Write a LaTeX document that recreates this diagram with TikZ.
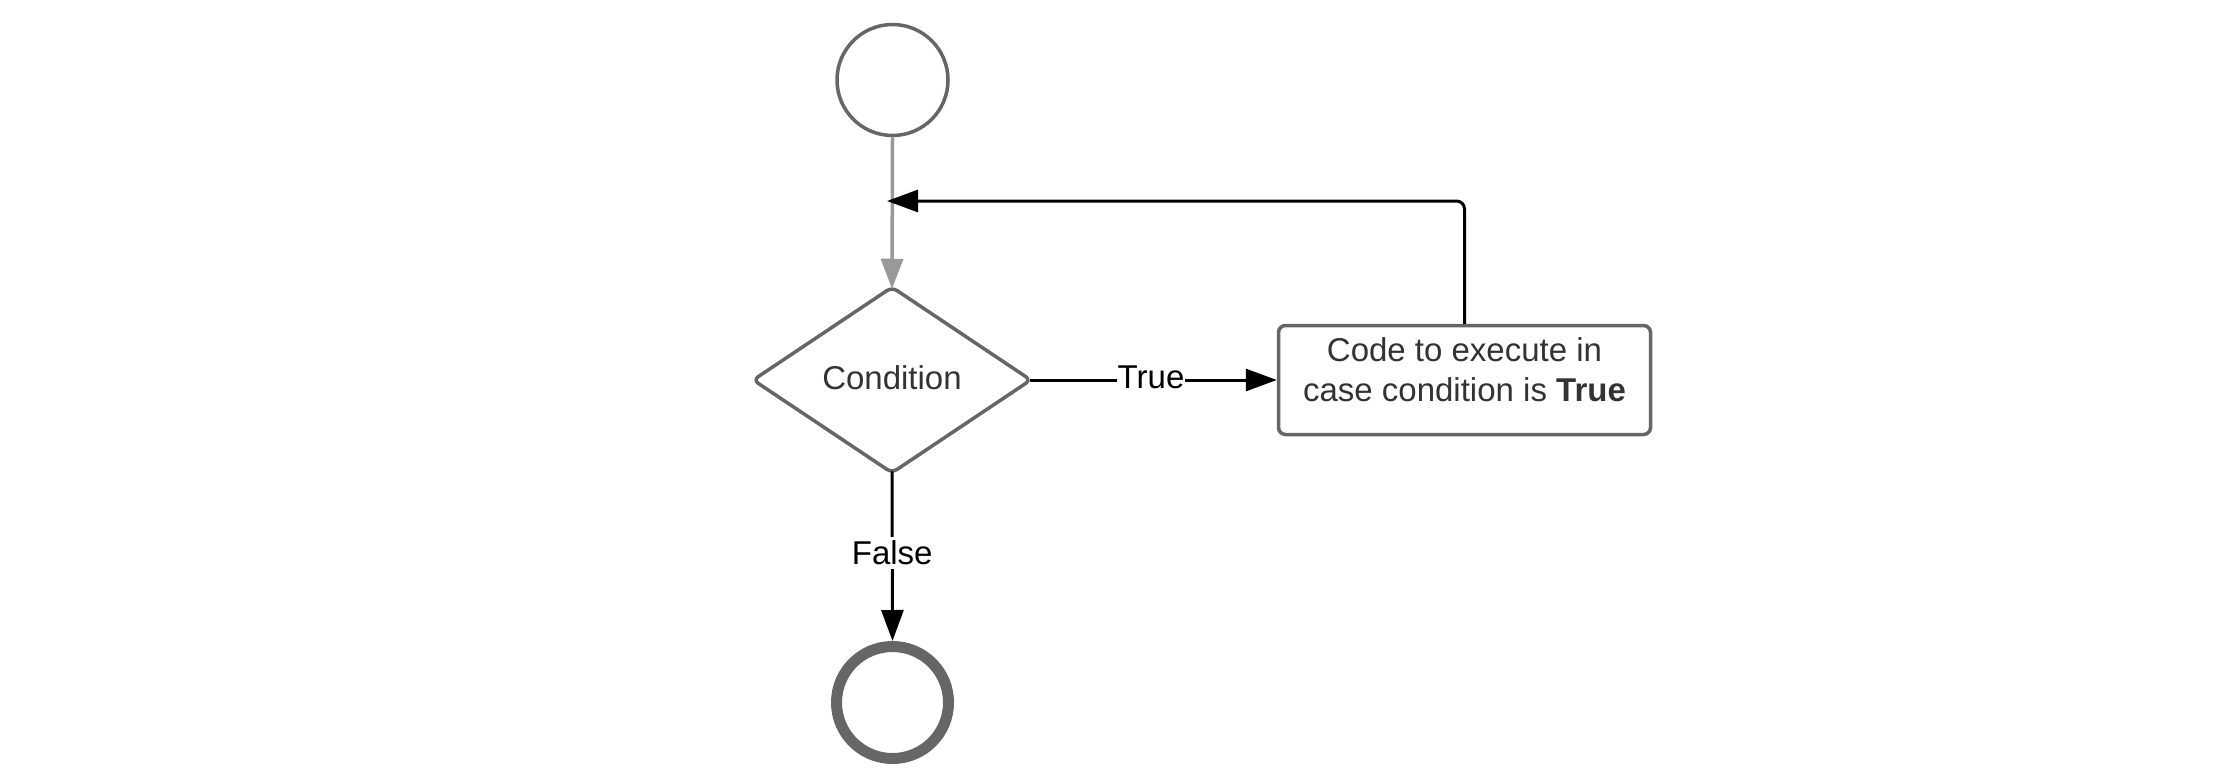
\documentclass[tikz,border=0pt]{standalone}
\usepackage{fontspec}
\setmainfont{Liberation Sans}
\usetikzlibrary{arrows.meta,shapes.geometric}
\definecolor{shapeline}{HTML}{666666}
\definecolor{startline}{HTML}{999999}
\definecolor{txt}{HTML}{333333}
\begin{document}
\begin{tikzpicture}[x=1pt,y=-1pt,
  every node/.style={font=\fontsize{33}{40}\selectfont},
  startnode/.style={circle,draw=shapeline,line width=3.5pt,minimum size=111pt,inner sep=0pt},
  endnode/.style={circle,draw=shapeline,line width=11pt,minimum size=112pt,inner sep=0pt},
  decision/.style={diamond,draw=shapeline,line width=3.5pt,minimum width=279pt,minimum height=187pt,aspect=1.49,inner sep=0pt,rounded corners=6pt,text=txt},
  action/.style={rectangle,draw=shapeline,line width=3.5pt,minimum width=372pt,minimum height=109pt,rounded corners=7pt},
  conn/.style={draw=black,line width=3pt,-{Triangle[length=31pt,width=22pt]}},
  grayconn/.style={draw=startline,line width=3.5pt,-{Triangle[length=30pt,width=22pt,fill=startline]}},
  lbl/.style={fill=white,inner xsep=1pt,inner ysep=4pt,text=black}
]
\useasboundingbox (0,0) rectangle (2235,774);
\node[startnode] (start) at (892.5,80) {};
\node[decision] (cond) at (892,380) {};
\node[text=txt] (condtxt) at (892,378) {Condition};
\node[action] (box) at (1464.5,380) {};
\node[text=txt,align=center] (boxtxt) at (1464.5,370) {Code to execute in\\case condition is \textbf{True}};
\node[endnode] (end) at (892.5,702.5) {};
\coordinate (join) at (887,201);

\draw[grayconn] (start.south) -- ([yshift=-4pt]cond.north);
\draw[conn] ([xshift=-3pt]cond.east) -- node[lbl,pos=0.49,yshift=3pt] {True} (box.west);
\draw[conn] ([yshift=4pt]cond.south) -- node[lbl,pos=0.48] {False} (end.north);
\draw[conn,rounded corners=8pt] (box.north) |- (join);
\end{tikzpicture}
\end{document}
